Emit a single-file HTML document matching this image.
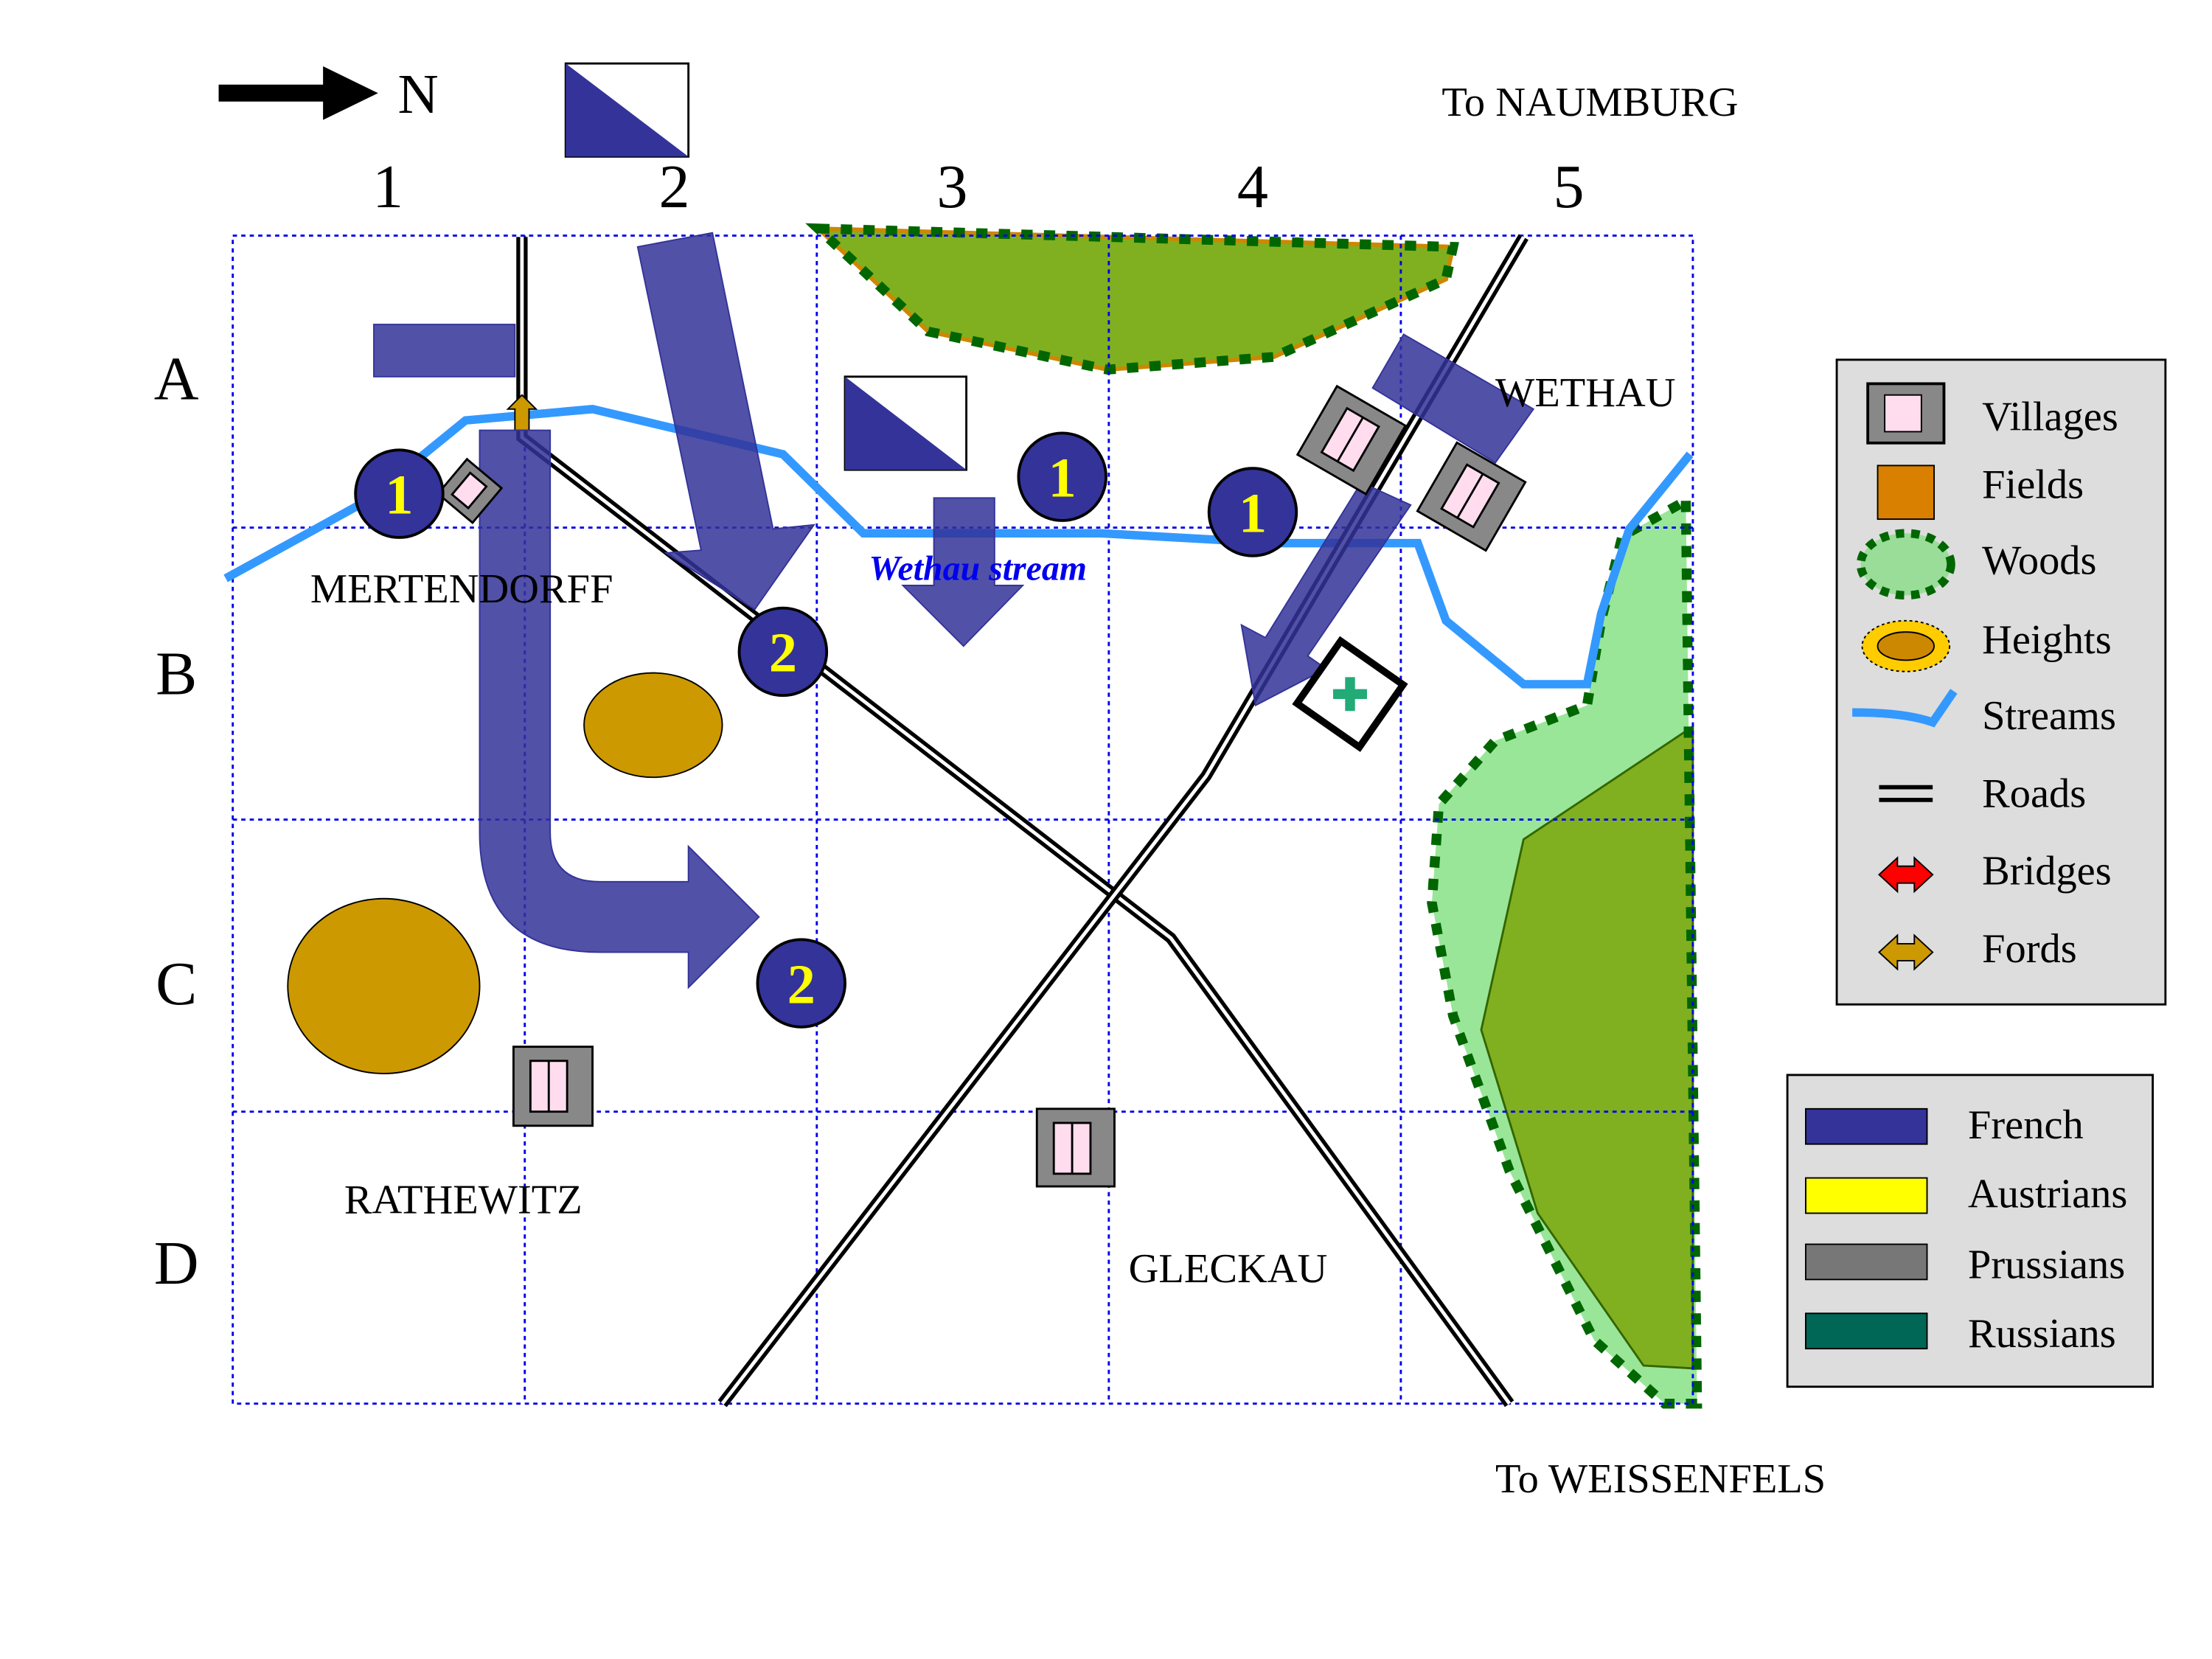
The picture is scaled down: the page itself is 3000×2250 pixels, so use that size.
<!DOCTYPE html>
<html><head><meta charset="utf-8"><style>html,body{margin:0;padding:0;background:#fff}svg{display:block}</style></head>
<body>
<svg width="3000" height="2250" viewBox="0 0 1568 1176" xmlns="http://www.w3.org/2000/svg" font-family="Liberation Serif, serif">
<rect width="1568" height="1176" fill="#fff"/>
<!-- north arrow -->
<line x1="155" y1="66" x2="235" y2="66" stroke="#000" stroke-width="12"/>
<polygon points="229,47 268,66 229,85" fill="#000"/>
<text x="282" y="80" font-size="40">N</text>
<rect x="401" y="45" width="87" height="66" fill="#fff" stroke="#000" stroke-width="1.5"/>
<polygon points="401,45 488,111 401,111" fill="#333399"/>
<text x="1022" y="82" font-size="29.5">To NAUMBURG</text>
<text x="1060" y="1058" font-size="29.5">To WEISSENFELS</text>
<g font-size="44" text-anchor="middle">
<text x="275" y="147">1</text><text x="478" y="147">2</text><text x="675" y="147">3</text><text x="888" y="147">4</text><text x="1112" y="147">5</text>
<text x="125" y="283">A</text><text x="125" y="492">B</text><text x="125" y="712">C</text><text x="125" y="910">D</text>
</g>
<!-- woods -->
<polygon points="580,162 1030,175 1025,198 903,253 785,262 658,235" fill="#80b020" stroke="#cc8800" stroke-width="3"/>
<polygon points="580,162 1030,175 1025,198 903,253 785,262 658,235" fill="none" stroke="#006600" stroke-width="7" stroke-dasharray="8,8"/>
<polygon points="1195,355 1203,995 1180,995 1130,950 1070,830 1030,720 1015,640 1020,570 1060,525 1125,500 1135,440 1150,380" fill="#99e699"/>
<polygon points="1200,515 1200,970 1165,968 1090,860 1050,730 1080,595" fill="#80b020" stroke="#336600" stroke-width="1.5"/>
<polygon points="1195,355 1203,995 1180,995 1130,950 1070,830 1030,720 1015,640 1020,570 1060,525 1125,500 1135,440 1150,380" fill="none" stroke="#006600" stroke-width="7" stroke-dasharray="8,8"/>
<!-- grid -->
<g stroke="#0000ee" stroke-width="1.5" stroke-dasharray="3,3" fill="none">
<rect x="165" y="167" width="1035" height="828"/>
<line x1="372" y1="167" x2="372" y2="995"/><line x1="579" y1="167" x2="579" y2="995"/><line x1="786" y1="167" x2="786" y2="995"/><line x1="993" y1="167" x2="993" y2="995"/>
<line x1="165" y1="374" x2="1200" y2="374"/><line x1="165" y1="581" x2="1200" y2="581"/><line x1="165" y1="788" x2="1200" y2="788"/>
</g>
<!-- heights -->
<ellipse cx="463" cy="514" rx="49" ry="37" fill="#cc9900" stroke="#000" stroke-width="1"/>
<ellipse cx="272" cy="699" rx="68" ry="62" fill="#cc9900" stroke="#000" stroke-width="1"/>
<!-- stream -->
<polyline points="160,410 260,355 330,298 420,290 555,322 612,378 780,378 905,385 1005,385 1025,440 1080,485 1125,485 1135,435 1155,375 1198,322" fill="none" stroke="#3399ff" stroke-width="6"/>
<!-- roads -->
<g fill="none" stroke-linejoin="miter">
<polyline points="370,168 370,310 830,665 1070,995" stroke="#000" stroke-width="8"/>
<polyline points="370,168 370,310 830,665 1070,995" stroke="#fff" stroke-width="2.5"/>
<polyline points="1080,168 855,550 512,995" stroke="#000" stroke-width="8"/>
<polyline points="1080,168 855,550 512,995" stroke="#fff" stroke-width="2.5"/>
</g>
<!-- ford -->
<polygon points="370,280 380,290 375,290 375,305 365,305 365,290 360,290" fill="#cc9900" stroke="#000" stroke-width="1"/>
<!-- blue arrows -->
<g fill="#333399" fill-opacity="0.85" stroke="#333399" stroke-width="1">
<rect x="265" y="230" width="100" height="37"/>
<polygon points="452,175 505,165 548,375 577,372 535,432 472,392 497,390"/>
<path d="M340,305 L390,305 L390,590 Q390,625 425,625 L488,625 L488,600 L538,650 L488,700 L488,675 L425,675 Q340,675 340,590 Z"/>
<polygon points="662,353 705,353 705,415 725,415 683,458 640,415 662,415"/>
<polygon points="965,342 1000,358 927,465 940,474 890,500 880,443 897,452"/>
<polygon points="973,275 995,237 1087,290 1060,328"/>
</g>
<rect x="599" y="267" width="86" height="66" fill="#fff" stroke="#000" stroke-width="1.5"/>
<polygon points="599,267 685,333 599,333" fill="#333399"/>
<!-- villages -->
<g stroke="#000" stroke-width="1.5">
<rect x="364" y="742" width="56" height="56" fill="#888"/><rect x="376" y="752" width="26" height="36" fill="#fde" /><line x1="389" y1="752" x2="389" y2="788"/>
<rect x="735" y="786" width="55" height="55" fill="#888"/><rect x="747" y="796" width="26" height="36" fill="#fde"/><line x1="760" y1="796" x2="760" y2="832"/>
<g transform="rotate(30 958 312)"><rect x="930" y="284" width="56" height="56" fill="#888"/><rect x="944" y="294" width="26" height="36" fill="#fde"/><line x1="957" y1="294" x2="957" y2="330"/></g>
<g transform="rotate(30 1043 352)"><rect x="1015" y="324" width="56" height="56" fill="#888"/><rect x="1029" y="334" width="26" height="36" fill="#fde"/><line x1="1042" y1="334" x2="1042" y2="370"/></g>
<g transform="rotate(40 333 348)"><rect x="317" y="332" width="32" height="32" fill="#888"/><rect x="325" y="338" width="15" height="20" fill="#fde"/></g>
</g>
<g transform="rotate(35 957 492)"><rect x="930" y="465" width="54" height="54" fill="#fff" stroke="#000" stroke-width="5"/></g>
<path d="M957,480 V504 M945,492 H969" stroke="#22aa77" stroke-width="7"/>
<!-- numbered circles -->
<g stroke="#000" stroke-width="2" fill="#333399">
<circle cx="283" cy="350" r="31"/><circle cx="753" cy="338" r="31"/><circle cx="888" cy="363" r="31"/><circle cx="555" cy="462" r="31"/><circle cx="568" cy="697" r="31"/>
</g>
<g fill="#ffff00" font-size="40" font-weight="bold" text-anchor="middle">
<text x="283" y="364">1</text><text x="753" y="352">1</text><text x="888" y="377">1</text><text x="555" y="476">2</text><text x="568" y="711">2</text>
</g>
<g font-size="29.5">
<text x="220" y="427">MERTENDORFF</text><text x="1060" y="288">WETHAU</text><text x="244" y="860">RATHEWITZ</text><text x="800" y="909">GLECKAU</text>
</g>
<text x="616" y="411" font-size="25" font-style="italic" font-weight="bold" fill="#0000ee">Wethau stream</text>
<!-- legend 1 -->
<rect x="1302" y="255" width="233" height="457" fill="#ddd" stroke="#000" stroke-width="1.5"/>
<g font-size="29.5">
<text x="1405" y="305">Villages</text><text x="1405" y="353">Fields</text><text x="1405" y="407">Woods</text><text x="1405" y="463">Heights</text><text x="1405" y="517">Streams</text><text x="1405" y="572">Roads</text><text x="1405" y="627">Bridges</text><text x="1405" y="682">Fords</text>
</g>
<rect x="1324" y="272" width="54" height="42" fill="#888" stroke="#000" stroke-width="2"/><rect x="1336" y="280" width="26" height="26" fill="#fde" stroke="#000"/>
<rect x="1331" y="330" width="40" height="38" fill="#d98000" stroke="#000"/>
<ellipse cx="1351" cy="400" rx="32" ry="22" fill="#99dd99" stroke="#006600" stroke-width="6" stroke-dasharray="6,5"/>
<ellipse cx="1351" cy="458" rx="31" ry="18" fill="#ffcc00" stroke="#000" stroke-dasharray="2,2"/><ellipse cx="1351" cy="458" rx="20" ry="10" fill="#cc8800" stroke="#000"/>
<path d="M1313,505 Q1350,505 1370,512 L1385,490" fill="none" stroke="#3399ff" stroke-width="6"/>
<line x1="1332" y1="558" x2="1370" y2="558" stroke="#000" stroke-width="3"/><line x1="1332" y1="567" x2="1370" y2="567" stroke="#000" stroke-width="3"/>
<polygon points="1332,620 1345,608 1345,614 1357,614 1357,608 1370,620 1357,632 1357,626 1345,626 1345,632" fill="#ff0000" stroke="#000"/>
<polygon points="1332,675 1345,663 1345,669 1357,669 1357,663 1370,675 1357,687 1357,681 1345,681 1345,687" fill="#cc9900" stroke="#000"/>
<!-- legend 2 -->
<rect x="1267" y="762" width="259" height="221" fill="#ddd" stroke="#000" stroke-width="1.5"/>
<rect x="1280" y="786" width="86" height="25" fill="#333399" stroke="#000"/>
<rect x="1280" y="835" width="86" height="25" fill="#ffff00" stroke="#000"/>
<rect x="1280" y="882" width="86" height="25" fill="#777" stroke="#000"/>
<rect x="1280" y="931" width="86" height="25" fill="#006655" stroke="#000"/>
<g font-size="29.5"><text x="1395" y="807">French</text><text x="1395" y="856">Austrians</text><text x="1395" y="906">Prussians</text><text x="1395" y="955">Russians</text></g>
</svg>
</body></html>
